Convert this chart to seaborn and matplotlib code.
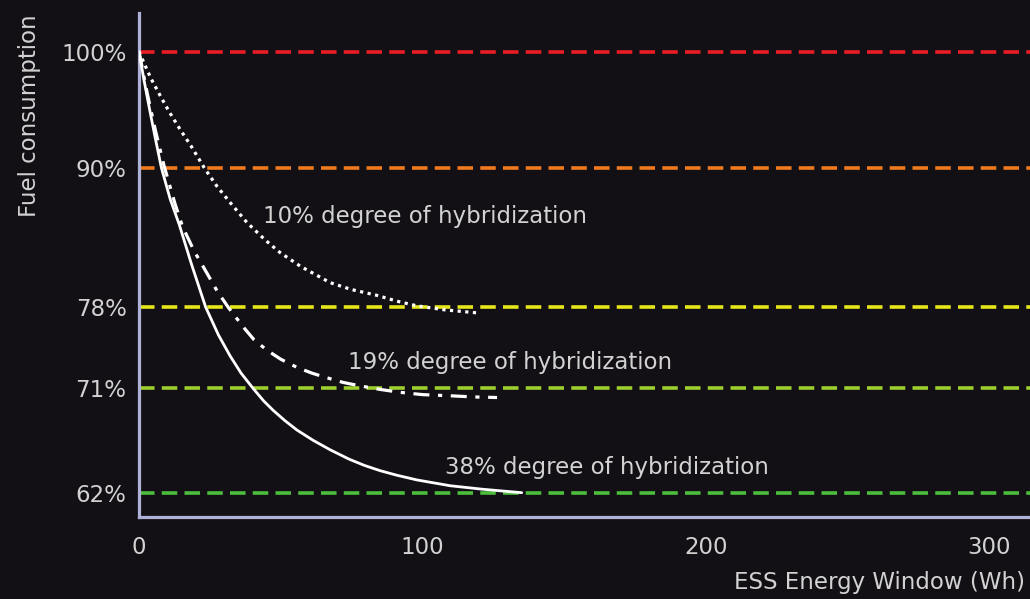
import matplotlib
matplotlib.use("Agg")
import matplotlib.pyplot as plt
import seaborn as sns
import pandas as pd

# ---- data ----
ref_levels = [100, 90, 78, 71, 62]
ref_colors = ["#ea1c26", "#f27a1e", "#e6e61a", "#9dcf2e", "#4cbe3c"]

x10 = [0, 2, 4.2, 7.5, 10.7, 14.5, 18.3, 23, 27.5, 32.5, 38, 44.4, 49.7, 57,
       67.4, 75, 84, 91, 98, 108, 119]
y10 = [100, 98.9, 97.7, 96.2, 94.8, 93.3, 91.9, 90.0, 88.4, 86.9, 85.3, 83.8, 82.7,
       81.5, 80.1, 79.5, 79.0, 78.5, 78.1, 77.75, 77.5]

x19 = [0, 3, 5.8, 8.8, 12.7, 15.4, 19.5, 24, 27.5, 31.4, 36.7, 40.5, 45, 50,
       55.7, 61, 66.3, 72, 78, 85, 92, 100, 109.7, 118, 126.3]
y19 = [100, 96.3, 93.2, 90.2, 86.9, 84.9, 82.8, 80.9, 79.4, 78.0, 76.3, 75.2, 74.3,
       73.5, 72.8, 72.3, 71.9, 71.5, 71.2, 70.9, 70.65, 70.45, 70.35, 70.25, 70.2]

x38 = [0, 1.8, 3.6, 5.7, 7.9, 11, 14.2, 18.5, 23.5, 28, 32.1, 36, 40.2, 44,
       47.3, 51.5, 55.7, 61.5, 67.4, 74, 79.5, 85, 91, 98, 109.7, 121, 135]
y38 = [100, 97.5, 95.2, 92.6, 90, 87.3, 85.1, 81.7, 78, 75.6, 73.8, 72.3, 71,
       69.9, 69.1, 68.2, 67.4, 66.5, 65.7, 64.9, 64.35, 63.9, 63.5, 63.1, 62.6,
       62.3, 62.0]

labels = ["10% degree of hybridization", "19% degree of hybridization",
          "38% degree of hybridization"]
label_pos = [(43.7, 85.8), (73.7, 73.2), (108, 64.2)]

yticks = [62, 71, 78, 90, 100]
ytick_labels = ["62%", "71%", "78%", "90%", "100%"]
xticks = [0, 100, 200, 300]

BG = "#121015"
SPINE = "#aeb2d8"
TXT = "#d2d2d2"
FS = 16.5

sns.set_theme(style="dark")
plt.rcParams["font.family"] = ["DejaVu Sans"]

fig = plt.figure(figsize=(10.30, 5.99), dpi=100, facecolor=BG)
ax = fig.add_axes([139 / 1030, 1 - 516.7 / 599, 1 - 139 / 1030, (516.7 - 12.7) / 599])
ax.set_facecolor(BG)

for lvl, col in zip(ref_levels, ref_colors):
    ax.axhline(lvl, color=col, lw=2.6, dashes=(4.3, 2.0), zorder=1)

df10 = pd.DataFrame({"x": x10, "y": y10})
df19 = pd.DataFrame({"x": x19, "y": y19})
df38 = pd.DataFrame({"x": x38, "y": y38})

sns.lineplot(data=df10, x="x", y="y", ax=ax, color="white", lw=2.3, sort=False, zorder=3)
ax.lines[-1].set_dashes((1.0, 1.4))
sns.lineplot(data=df19, x="x", y="y", ax=ax, color="white", lw=2.3, sort=False, zorder=3)
ax.lines[-1].set_dashes((5, 2.7, 1.3, 2.7))
sns.lineplot(data=df38, x="x", y="y", ax=ax, color="white", lw=2.0, sort=False, zorder=3)
for ln in ax.lines[-3:]:
    ln.set_solid_joinstyle("round")
    ln.set_dash_joinstyle("round")

for t, (tx, ty) in zip(labels, label_pos):
    ax.text(tx, ty, t, color=TXT, fontsize=FS, ha="left", va="center", zorder=4)

ax.set_xlim(0, (1030 - 139) / 2.835)
ax.set_ylim(59.93, 103.36)
ax.set_xticks(xticks)
ax.set_xticklabels([str(v) for v in xticks])
ax.set_yticks(yticks)
ax.set_yticklabels(ytick_labels)
ax.tick_params(axis="both", length=0, colors=TXT, labelsize=FS)
ax.tick_params(axis="y", pad=9)
ax.tick_params(axis="x", pad=14)
ax.grid(False)
ax.set_xlabel("")
ax.set_ylabel("")

for s in ["top", "right"]:
    ax.spines[s].set_visible(False)
for s in ["left", "bottom"]:
    ax.spines[s].set_visible(True)
    ax.spines[s].set_color(SPINE)
    ax.spines[s].set_linewidth(2.3)

fig.text(1025 / 1030, 1 - 583 / 599, "ESS Energy Window (Wh)", color=TXT,
         fontsize=FS, ha="right", va="center")
fig.text(30 / 1030, 1 - 14 / 599, "Fuel consumption", color=TXT, fontsize=FS,
         ha="center", va="top", rotation=90)

fig.savefig("out.png", dpi=100, facecolor=BG)
